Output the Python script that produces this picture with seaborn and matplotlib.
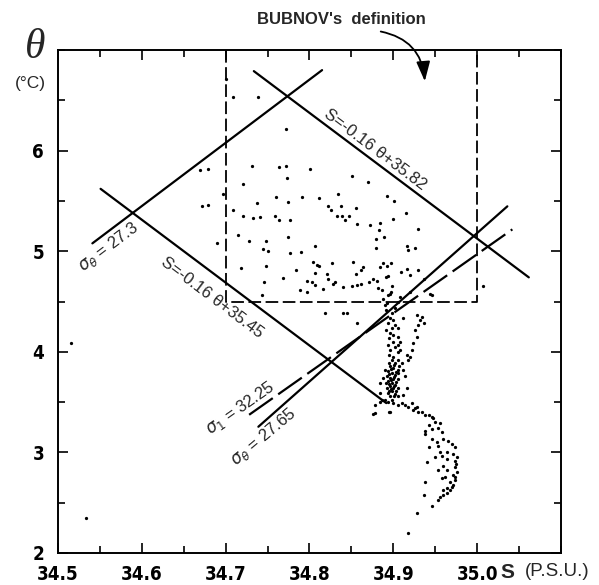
import numpy as np
import pandas as pd
import matplotlib
matplotlib.use("Agg")
import matplotlib.pyplot as plt
from matplotlib.ticker import MultipleLocator, FixedLocator
from matplotlib import font_manager
import seaborn as sns

# ---- observations: salinity (P.S.U.) and potential temperature (deg C) ----
# intermediate layer (upper part of the diagram)
sal_upper = [
    34.700, 34.709, 34.739, 34.772, 34.669, 34.679, 34.732, 34.764, 34.772, 34.801,
    34.773, 34.721, 34.697, 34.834, 34.672, 34.679, 34.737, 34.760, 34.774, 34.791,
    34.811, 34.822, 34.826, 34.709, 34.721, 34.733, 34.741, 34.759, 34.764, 34.777,
    34.833, 34.715, 34.728, 34.748, 34.774, 34.690, 34.745, 34.751, 34.777, 34.790,
    34.807, 34.718, 34.748, 34.784, 34.804, 34.809, 34.811, 34.827, 34.807, 34.821,
    34.746, 34.768, 34.797, 34.803, 34.822, 34.831, 34.789, 34.797, 34.816, 34.743,
    34.851, 34.870, 34.837, 34.856, 34.839, 34.847, 34.842, 34.893, 34.901, 34.900,
    34.915, 34.857, 34.872, 34.884, 34.883, 34.930, 34.879, 34.889, 34.879, 34.916,
    34.918, 34.926, 34.864, 34.862, 34.884, 34.888, 34.893, 34.897, 34.916, 34.909,
    34.920, 34.930, 34.894, 34.828, 34.840, 34.851, 34.857, 34.862, 34.871, 34.876,
    34.881, 34.891, 34.882, 34.887, 34.899, 34.897, 34.894, 34.920, 34.936, 34.946,
    35.007, 34.852, 34.856, 34.807, 34.888, 34.893, 34.905, 34.908, 34.515, 34.533,
]
theta_upper = [
    6.71, 6.53, 6.53, 6.21, 5.81, 5.82, 5.85, 5.84, 5.85, 5.82,
    5.73, 5.67, 5.57, 5.57, 5.45, 5.46, 5.48, 5.54, 5.49, 5.54,
    5.53, 5.45, 5.41, 5.41, 5.35, 5.33, 5.34, 5.35, 5.31, 5.31,
    5.35, 5.16, 5.10, 5.10, 5.14, 5.08, 5.02, 5.00, 4.98, 4.99,
    5.05, 4.83, 4.85, 4.81, 4.89, 4.86, 4.85, 4.88, 4.78, 4.77,
    4.69, 4.73, 4.70, 4.69, 4.72, 4.69, 4.61, 4.59, 4.62, 4.56,
    5.75, 5.69, 5.45, 5.43, 5.35, 5.35, 5.31, 5.55, 5.50, 5.32,
    5.38, 5.27, 5.26, 5.28, 5.21, 5.22, 5.12, 5.14, 5.03, 5.05,
    5.01, 5.03, 4.84, 4.81, 4.84, 4.88, 4.85, 4.88, 4.82, 4.79,
    4.76, 4.81, 4.75, 4.67, 4.64, 4.65, 4.66, 4.67, 4.69, 4.72,
    4.70, 4.74, 4.63, 4.61, 4.65, 4.59, 4.56, 4.59, 4.72, 4.56,
    4.65, 4.89, 4.77, 4.66, 4.52, 4.49, 4.50, 4.54, 4.09, 2.35,
]

# deep layer (column near 34.9 and the lower hook)
sal_deep = [
    34.819, 34.840, 34.845, 34.857, 34.944, 34.896, 34.890, 34.902, 34.899, 34.896,
    34.900, 34.894, 34.902, 34.899, 34.912, 34.896, 34.900, 34.905, 34.895, 34.900,
    34.908, 34.902, 34.896, 34.905, 34.908, 34.916, 34.918, 34.900, 34.899, 34.905,
    34.902, 34.896, 34.900, 34.905, 34.894, 34.899, 34.902, 34.906, 34.893, 34.896,
    34.900, 34.905, 34.894, 34.899, 34.902, 34.896, 34.900, 34.893, 34.905, 34.899,
    34.894, 34.902, 34.896, 34.890, 34.888, 34.884, 34.910, 34.912, 34.914, 34.916,
    34.912, 34.884, 34.887, 34.878, 34.896, 34.878, 34.895, 34.901, 34.897, 34.903,
    34.895, 34.901, 34.897, 34.903, 34.895, 34.901, 34.897, 34.903, 34.895, 34.901,
    34.899, 34.906, 34.891, 34.907, 34.890, 34.894, 34.891, 34.895, 34.906, 34.891,
    34.906, 34.928, 34.932, 34.930, 34.926, 34.928, 34.924, 34.922, 34.920, 34.934,
    34.936, 34.914, 34.922, 34.928, 34.924, 34.934, 34.942, 34.947, 34.884, 34.894,
    34.900, 34.906, 34.910, 34.918, 34.926, 34.930, 34.938, 34.876, 34.895, 34.946,
    34.950, 34.956, 34.942, 34.946, 34.938, 34.953, 34.958, 34.938, 34.946, 34.952,
    34.959, 34.965, 34.953, 34.942, 34.970, 34.974, 34.956, 34.964, 34.958, 34.971,
    34.976, 34.974, 34.964, 34.950, 34.940, 34.953, 34.959, 34.964, 34.974, 34.976,
    34.971, 34.974, 34.958, 34.962, 34.968, 34.971, 34.964, 34.959, 34.968, 34.938,
    34.956, 34.959, 34.953, 34.964, 34.936, 34.946, 34.928, 34.918, 34.975, 34.973,
    34.970,
]
theta_deep = [
    4.39, 4.39, 4.39, 4.29, 4.57, 4.57, 4.47, 4.44, 4.39, 4.34,
    4.32, 4.29, 4.27, 4.24, 4.34, 4.19, 4.17, 4.15, 4.14, 4.10,
    4.10, 4.05, 4.02, 4.00, 4.02, 3.97, 3.92, 3.95, 3.92, 3.92,
    3.89, 3.86, 3.84, 3.82, 3.81, 3.79, 3.77, 3.79, 3.76, 3.74,
    3.73, 3.73, 3.71, 3.69, 3.67, 3.66, 3.64, 3.64, 3.64, 3.61,
    3.59, 3.58, 3.56, 3.52, 3.74, 3.69, 3.89, 3.82, 3.76, 3.64,
    3.57, 3.59, 3.52, 3.47, 3.40, 3.39, 3.89, 3.87, 3.83, 3.80,
    3.78, 3.75, 3.72, 3.70, 3.68, 3.66, 3.63, 3.61, 3.61, 3.56,
    3.52, 3.56, 3.69, 3.86, 3.82, 4.07, 4.42, 3.97, 4.07, 4.22,
    4.24, 4.37, 4.32, 4.27, 4.22, 4.15, 4.09, 4.02, 3.95, 4.35,
    4.29, 3.47, 3.49, 3.45, 3.42, 3.40, 3.37, 3.34, 3.50, 3.50,
    3.49, 3.47, 3.49, 3.45, 3.44, 3.40, 3.37, 3.38, 3.40, 3.35,
    3.30, 3.29, 3.27, 3.23, 3.21, 3.24, 3.20, 3.18, 3.13, 3.10,
    3.13, 3.11, 3.06, 3.05, 3.08, 3.05, 3.00, 3.00, 2.96, 2.98,
    2.95, 2.91, 2.93, 2.95, 2.90, 2.83, 2.86, 2.83, 2.85, 2.81,
    2.78, 2.73, 2.75, 2.76, 2.71, 2.68, 2.65, 2.63, 2.63, 2.71,
    2.56, 2.58, 2.53, 2.60, 2.58, 2.47, 2.40, 2.20, 2.88, 2.76,
    2.66,
]

# ---- straight boundaries S = slope*theta + intercept ----
bound_slope = -0.16
bound_upper_icpt = 35.82
bound_upper_theta = [4.74, 6.79]
bound_lower_icpt = 35.45
bound_lower_theta = [3.49, 5.62]

# ---- isopycnal segments (end points) ----
sig0_273_S = [34.541, 34.815]
sig0_273_T = [5.078, 6.80]
sig1_3225_S = [34.728, 35.042]
sig1_3225_T = [3.374, 5.217]
sig0_2765_S = [34.739, 35.036]
sig0_2765_T = [3.255, 5.446]

# ---- Bubnov box ----
box_S = [34.70, 35.00]
box_T = [4.50, 7.00]

x_ticks = [34.5, 34.6, 34.7, 34.8, 34.9, 35.0]
x_labels = ["34.5", "34.6", "34.7", "34.8", "34.9", "35.0"]
y_ticks = [2, 3, 4, 5, 6]
y_labels = ["2", "3", "4", "5", "6"]

sns.set_theme(style="ticks")
plt.rcParams["font.family"] = ["Liberation Sans", "DejaVu Sans"]
plt.rcParams["mathtext.fontset"] = "dejavusans"

# condensed bold face for the tick numbers
installed = {f.name for f in font_manager.fontManager.ttflist}
if "Liberation Sans Narrow" in installed:
    tick_font = dict(family="Liberation Sans Narrow", weight="bold", size=14.5)
else:
    tick_font = dict(family="DejaVu Sans", stretch="condensed", weight="bold",
                     size=13.5)

W, H = 599, 585
fig = plt.figure(figsize=(W / 100, H / 100), dpi=100)
ax = fig.add_axes([58 / W, 32 / H, 503 / W, 503 / H])

df = pd.DataFrame({
    "S": sal_upper + sal_deep,
    "theta": theta_upper + theta_deep,
})
sns.scatterplot(data=df, x="S", y="theta", ax=ax, marker="o", s=5.5,
                color="black", linewidth=0, legend=False, zorder=3)

lw = 1.6
for icpt, trange in [(bound_upper_icpt, bound_upper_theta),
                     (bound_lower_icpt, bound_lower_theta)]:
    t = np.array(trange)
    ax.plot(icpt + bound_slope * t, t, color="black", lw=lw)

ax.plot(sig0_273_S, sig0_273_T, color="black", lw=lw)
ax.plot(sig0_2765_S, sig0_2765_T, color="black", lw=lw)
ax.plot(sig1_3225_S, sig1_3225_T, color="black", lw=lw, ls=(0, (13, 3)))

ax.plot([box_S[0], box_S[0], box_S[1], box_S[1]],
        [box_T[1], box_T[0], box_T[0], box_T[1]],
        color="black", lw=1.3, ls=(0, (7, 2.5)), clip_on=False)

ax.set_xlim(34.5, 35.1)
ax.set_ylim(2, 7)
ax.xaxis.set_major_locator(FixedLocator(x_ticks))
ax.set_xticklabels(x_labels)
ax.xaxis.set_minor_locator(MultipleLocator(0.05))
ax.yaxis.set_major_locator(FixedLocator(y_ticks))
ax.set_yticklabels(y_labels)
ax.yaxis.set_minor_locator(MultipleLocator(0.5))
ax.set_xlabel("")
ax.set_ylabel("")

ax.tick_params(which="both", direction="in", top=True, right=True,
               color="black", width=1.2)
ax.tick_params(which="major", length=7)
ax.tick_params(which="minor", length=5)
ax.tick_params(axis="x", pad=9)
ax.tick_params(axis="y", pad=10)
for lab in ax.get_xticklabels() + ax.get_yticklabels():
    lab.set_fontproperties(font_manager.FontProperties(**tick_font))
    lab.set_color("black")
for sp in ax.spines.values():
    sp.set_color("black")
    sp.set_linewidth(1.4)

# line labels
ax.text(34.878, 6.01, "S=-0.16 \u03b8+35.82", rotation=-37, ha="center",
        va="center", fontsize=12, rotation_mode="anchor")
ax.text(34.684, 4.54, "S=-0.16 \u03b8+35.45", rotation=-37, ha="center",
        va="center", fontsize=12, rotation_mode="anchor")
ax.text(34.560, 5.04, r"$\sigma_\theta$ = 27.3", rotation=37, ha="center",
        va="center", fontsize=12, rotation_mode="anchor")
ax.text(34.717, 3.44, r"$\sigma_1$ = 32.25", rotation=35, ha="center",
        va="center", fontsize=12, rotation_mode="anchor")
ax.text(34.745, 3.15, r"$\sigma_\theta$ = 27.65", rotation=40, ha="center",
        va="center", fontsize=12, rotation_mode="anchor")

# axis titles
fig.text(35 / W, 1 - 48 / H, "\u03b8", fontsize=30, style="italic",
         family=["Liberation Serif", "DejaVu Serif"], ha="center", va="center")
fig.text(30 / W, 1 - 84 / H, "(\u00b0C)", fontsize=12.5, ha="center", va="center")
fig.text(507 / W, 1 - 572 / H, "S", fontsize=15, fontweight="bold",
         ha="center", va="center")
fig.text(557 / W, 1 - 572 / H, "(P.S.U.)", fontsize=13.5, ha="center", va="center")

# Bubnov annotation
fig.text(341 / W, 1 - 20 / H, "BUBNOV's  definition", fontsize=12,
         fontweight="bold", ha="center", va="center")
ax.annotate("", xy=(425 / W, 1 - 84 / H), xytext=(378 / W, 1 - 31 / H),
            xycoords="figure fraction", textcoords="figure fraction",
            arrowprops=dict(arrowstyle="-|>,head_length=1.0,head_width=0.35",
                            connectionstyle="arc3,rad=-0.4",
                            color="black", lw=1.3))

fig.savefig("out.png", dpi=100, facecolor="white")
